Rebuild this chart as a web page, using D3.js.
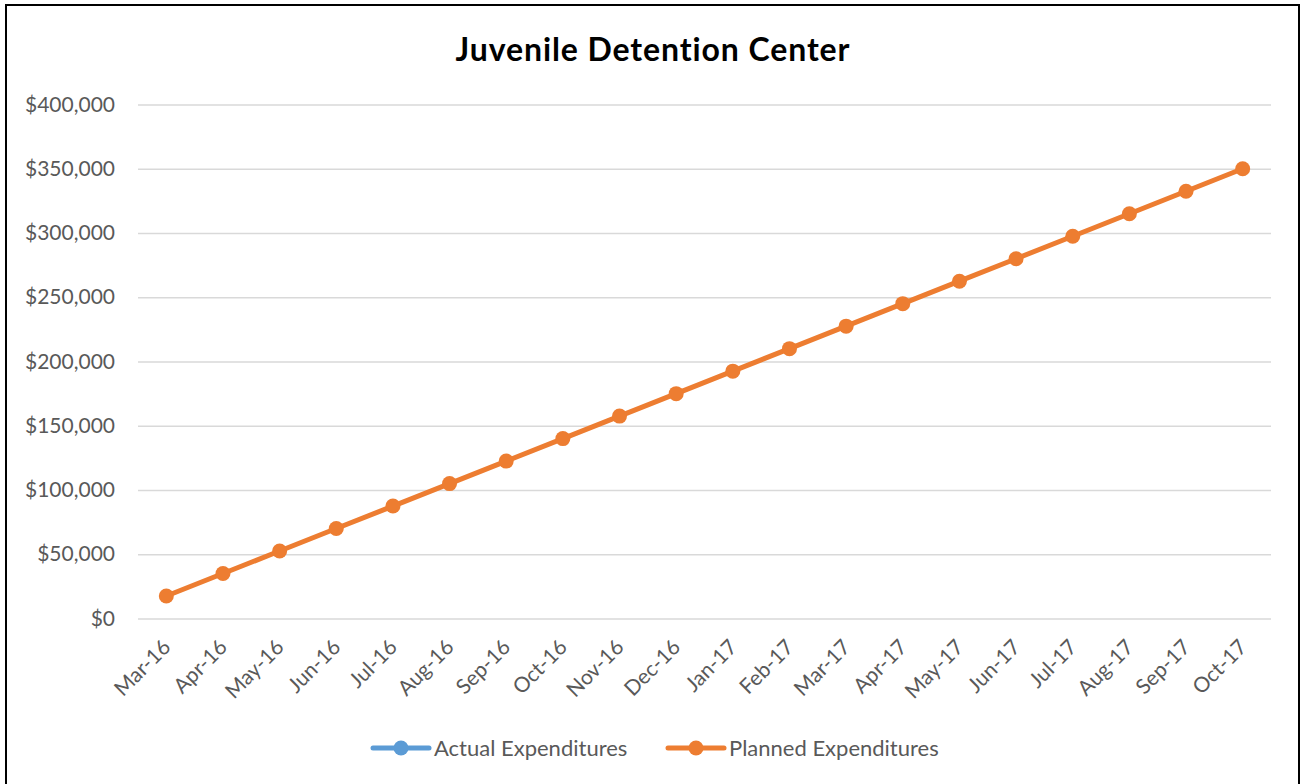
<!DOCTYPE html>
<html><head><meta charset="utf-8">
<script src="https://cdn.jsdelivr.net/npm/d3@7"></script>
<style>body{margin:0;background:#fff}svg{display:block}</style>
</head><body>
<svg id="chart" width="1302" height="784"></svg>
<script>
const categories = ["Mar-16","Apr-16","May-16","Jun-16","Jul-16","Aug-16","Sep-16","Oct-16","Nov-16","Dec-16","Jan-17","Feb-17","Mar-17","Apr-17","May-17","Jun-17","Jul-17","Aug-17","Sep-17","Oct-17"];
const plannedValues = [17500,35000,52500,70000,87500,105000,122500,140000,157500,175000,192500,210000,227500,245000,262500,280000,297500,315000,332500,350000];
const actualValues = [];
const yTicks = [0,50000,100000,150000,200000,250000,300000,350000,400000];
const seriesNames = ["Actual Expenditures","Planned Expenditures"];
const seriesColors = ["#5b9bd5","#ed7d31"];
const title = "Juvenile Detention Center";

const FONT = "Lato, 'Open Sans', sans-serif";
const svg = d3.select("#chart");
svg.append("rect").attr("x",6).attr("y",5).attr("width",1293).attr("height",800)
  .attr("fill","#fff").attr("stroke","#000").attr("stroke-width",2);

const plot = {left:138, right:1271, top:104.5, bottom:618.5};
const x = d3.scalePoint().domain(categories).range([plot.left, plot.right]).padding(0.5);
const y = d3.scaleLinear().domain([0,400000]).range([plot.bottom, plot.top]);

svg.append("text").attr("x",653).attr("y",61).attr("text-anchor","middle")
  .attr("font-family",FONT).attr("font-weight","bold").attr("font-size",32)
  .attr("letter-spacing",0.9).attr("fill","#000").text(title);

// grid
const yAxis = d3.axisLeft(y).tickValues(yTicks).tickSize(-(plot.right-plot.left))
  .tickFormat(d => "$" + d3.format(",")(d)).tickPadding(23);
const gy = svg.append("g").attr("transform",`translate(${plot.left},0)`).call(yAxis);
gy.select(".domain").remove();
gy.selectAll(".tick line").attr("stroke","#d9d9d9").attr("stroke-width",1.5);
gy.selectAll(".tick text").attr("font-family",FONT).attr("font-size",21).attr("fill","#595959");

const xAxis = d3.axisBottom(x).tickSize(0).tickPadding(0);
const gx = svg.append("g").attr("transform",`translate(0,${plot.bottom})`).call(xAxis);
gx.select(".domain").remove();
gx.selectAll(".tick text").attr("font-family",FONT).attr("font-size",21).attr("fill","#595959")
  .attr("text-anchor","end").attr("dy",0)
  .attr("transform","translate(5,30) rotate(-45)");

const line = d3.line().x((d,i)=>x(categories[i])).y(d=>y(d));
const series = [actualValues, plannedValues];
series.forEach((vals,si)=>{
  if(!vals.length) return;
  svg.append("path").datum(vals).attr("d",line).attr("fill","none")
    .attr("stroke",seriesColors[si]).attr("stroke-width",5).attr("stroke-linejoin","round").attr("stroke-linecap","round");
  svg.append("g").selectAll("circle").data(vals).join("circle")
    .attr("cx",(d,i)=>x(categories[i])).attr("cy",d=>y(d)).attr("r",7.5).attr("fill",seriesColors[si]);
});

// legend
const legendItems = [{x:373},{x:668}];
seriesNames.forEach((n,i)=>{
  const lx = legendItems[i].x, ly = 748;
  const g = svg.append("g");
  g.append("line").attr("x1",lx).attr("x2",lx+56).attr("y1",ly).attr("y2",ly)
    .attr("stroke",seriesColors[i]).attr("stroke-width",5).attr("stroke-linecap","round");
  g.append("circle").attr("cx",lx+28).attr("cy",ly).attr("r",7.5).attr("fill",seriesColors[i]);
  g.append("text").attr("x",lx+61).attr("y",ly).attr("dy","0.35em").attr("font-family",FONT)
    .attr("font-size",22).attr("fill","#595959").text(n);
});
</script>
</body></html>
